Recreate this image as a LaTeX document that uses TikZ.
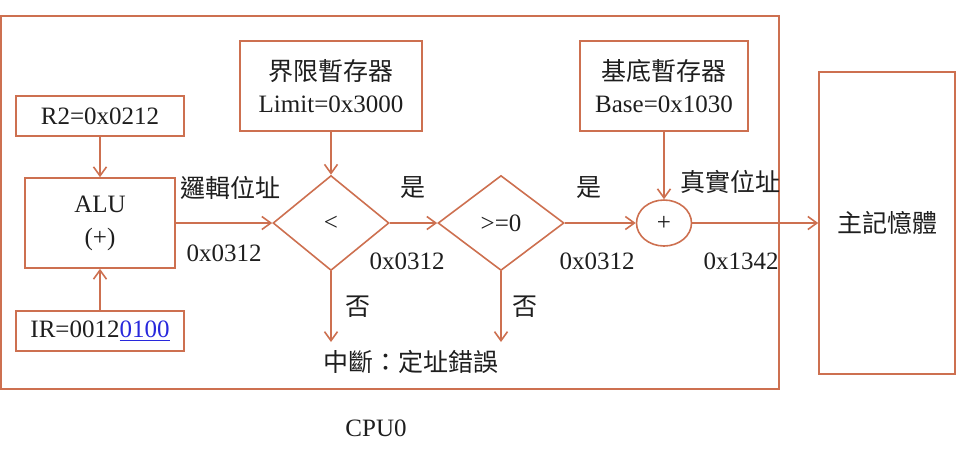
\documentclass[tikz,border=0pt]{standalone}
\usepackage{fontspec}
\setmainfont{Liberation Serif}
\newfontfamily\cjk{Noto Sans CJK TC}
\usepackage{xcolor}
\definecolor{linecol}{RGB}{205,112,80}
\definecolor{txtcol}{RGB}{30,30,30}
\definecolor{fieldcol}{RGB}{40,40,220}
\usetikzlibrary{
  arrows.meta,
  shapes.geometric
}

\begin{document}
\begin{tikzpicture}[
  x=0.5pt, y=-0.5pt,
  every node/.style={font=\fontsize{12.5}{16.5}\selectfont, text=txtcol},
  box/.style={draw=linecol, line width=0.8pt, inner sep=0pt, align=center},
  dec/.style={diamond, draw=linecol, line width=0.8pt, inner sep=0pt, minimum height=47.5pt},
  adder/.style={ellipse, draw=linecol, line width=0.8pt, inner sep=0pt,
    minimum width=27.5pt, minimum height=23pt},
  arr/.style={draw=linecol, line width=0.8pt, -{Straight Barb[length=4.5pt,width=6.5pt]}},
  lab/.style={inner sep=0pt}
]
  \useasboundingbox (0,0) rectangle (967,452);

  % cpu frame
  \draw[draw=linecol, line width=0.8pt] (1,16) rectangle (779,389);
  \node[lab] (cpu) at (376,428) {CPU0};

  % registers and alu
  \node[box, minimum width=84pt, minimum height=20pt] (r2) at (100,116) {R2=0x0212};
  \node[box, minimum width=75pt, minimum height=45pt] (alu) at (100,223) {ALU\\(+)};
  \node[box, minimum width=84pt, minimum height=20pt] (ir) at (100,331)
    {IR=0012\textcolor{fieldcol}{\underline{0100}}};
  \node[box, minimum width=91pt, minimum height=45pt, font=\fontsize{12.5}{16}\selectfont]
    (limit) at (331,86) {{\cjk 界限暫存器}\\Limit=0x3000};
  \node[box, minimum width=84pt, minimum height=45pt, font=\fontsize{12.5}{16}\selectfont]
    (base) at (664,86) {{\cjk 基底暫存器}\\Base=0x1030};

  % checks and adder
  \node[dec, minimum width=58pt] (lt) at (331,223) {<};
  \node[dec, minimum width=63pt] (ge) at (501,223) {>=0};
  \node[adder] (add) at (664,223) {+};

  % main memory
  \node[box, minimum width=68pt, minimum height=151pt] (mem) at (887,223) {\cjk 主記憶體};

  % connectors
  \coordinate (ltno) at (331,342);
  \coordinate (geno) at (501,342);
  \draw[arr] (r2) -- (alu);
  \draw[arr] (ir) -- (alu);
  \draw[arr] (alu) -- (lt);
  \draw[arr] (limit) -- (lt);
  \draw[arr] (lt) -- (ge);
  \draw[arr] (ge) -- (add);
  \draw[arr] (base) -- (add);
  \draw[arr] (add) -- (mem);
  \draw[arr] (lt.south) -- (ltno);
  \draw[arr] (ge.south) -- (geno);

  % labels
  \node[lab] (logaddr) at (230,188) {\cjk 邏輯位址};
  \node[lab] (v1) at (224,253) {0x0312};
  \node[lab] (yes1) at (413,188) {\cjk 是};
  \node[lab] (v2) at (407,261) {0x0312};
  \node[lab] (no1) at (358,307) {\cjk 否};
  \node[lab] (no2) at (525,307) {\cjk 否};
  \node[lab] (trap) at (411,362) {\cjk 中斷：定址錯誤};
  \node[lab] (yes2) at (589,188) {\cjk 是};
  \node[lab] (v3) at (597,261) {0x0312};
  \node[lab] (realaddr) at (730,182) {\cjk 真實位址};
  \node[lab] (v4) at (741,261) {0x1342};

\end{tikzpicture}
\end{document}
